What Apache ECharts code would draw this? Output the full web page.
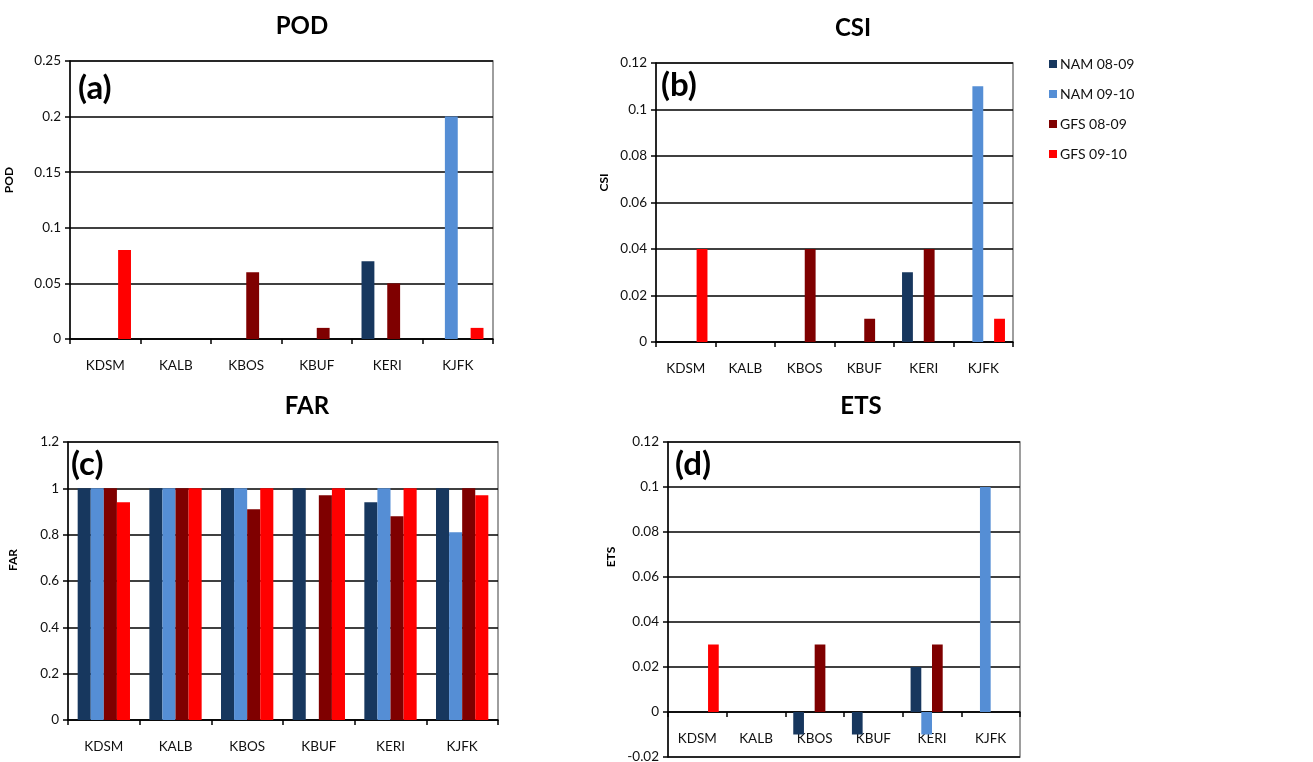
<!DOCTYPE html>
<html>
<head>
<meta charset="utf-8">
<script src="https://cdn.jsdelivr.net/npm/echarts@6/dist/echarts.min.js"></script>
<style>
html,body{margin:0;padding:0;background:#fff;}
#chart{width:1313px;height:762px;}
</style>
</head>
<body>
<div id="chart"></div>
<script>
const categories = ['KDSM', 'KALB', 'KBOS', 'KBUF', 'KERI', 'KJFK'];
const seriesNames = ['NAM 08-09', 'NAM 09-10', 'GFS 08-09', 'GFS 09-10'];
const seriesColors = ['#17375E', '#558ED5', '#7F0000', '#FF0000'];

// POD (a)
const podNam0809 = [0, 0, 0, 0, 0.07, 0];
const podNam0910 = [0, 0, 0, 0, 0, 0.2];
const podGfs0809 = [0, 0, 0.06, 0.01, 0.05, 0];
const podGfs0910 = [0.08, 0, 0, 0, 0, 0.01];

// CSI (b)
const csiNam0809 = [0, 0, 0, 0, 0.03, 0];
const csiNam0910 = [0, 0, 0, 0, 0, 0.11];
const csiGfs0809 = [0, 0, 0.04, 0.01, 0.04, 0];
const csiGfs0910 = [0.04, 0, 0, 0, 0, 0.01];

// FAR (c)
const farNam0809 = [1, 1, 1, 1, 0.94, 1];
const farNam0910 = [1, 1, 1, 0, 1, 0.81];
const farGfs0809 = [1, 1, 0.91, 0.97, 0.88, 1];
const farGfs0910 = [0.94, 1, 1, 1, 1, 0.97];

// ETS (d)
const etsNam0809 = [0, 0, -0.01, -0.01, 0.02, 0];
const etsNam0910 = [0, 0, 0, 0, -0.01, 0.1];
const etsGfs0809 = [0, 0, 0.03, 0, 0.03, 0];
const etsGfs0910 = [0.03, 0, 0, 0, 0, 0];

const panelTitles = ['POD', 'CSI', 'FAR', 'ETS'];
const panelLabels = ['(a)', '(b)', '(c)', '(d)'];
const yMins = [0, 0, 0, -0.02];
const yMaxs = [0.25, 0.12, 1.2, 0.12];
const yIntervals = [0.05, 0.02, 0.2, 0.02];

const panelData = [
  [podNam0809, podNam0910, podGfs0809, podGfs0910],
  [csiNam0809, csiNam0910, csiGfs0809, csiGfs0910],
  [farNam0809, farNam0910, farGfs0809, farGfs0910],
  [etsNam0809, etsNam0910, etsGfs0809, etsGfs0910]
];

const FONT = 'Lato, "Open Sans", sans-serif';

// layout
const grids = [
  {left: 70, top: 61, width: 423, height: 278},
  {left: 656, top: 63, width: 357, height: 279},
  {left: 68, top: 442, width: 430, height: 278},
  {left: 668, top: 442, width: 352, height: 315}
];
const titlePos = [[297, 9], [848, 11], [302, 389], [856, 389]];
const labelPos = [[78, 72], [661, 69], [71, 448], [675, 448]];
const nameGaps = [55, 46, 49, 51];
const namePads = [40, 40, 42, 85];

// category axis sits on the value 0: offset from grid bottom to the zero line
function zeroOffset(i) {
  const h = grids[i].height;
  return -h * (0 - yMins[i]) / (yMaxs[i] - yMins[i]);
}

const title = [];
panelTitles.forEach((t, i) => {
  title.push({
    text: t, left: titlePos[i][0], top: titlePos[i][1], textAlign: 'center',
    textStyle: {fontFamily: FONT, fontWeight: 'bold', fontSize: 24, color: '#000'}
  });
});
panelLabels.forEach((t, i) => {
  title.push({
    text: t, left: labelPos[i][0], top: labelPos[i][1], padding: 0,
    textStyle: {fontFamily: FONT, fontWeight: 'bold', fontSize: 33, color: '#000'}
  });
});

const grid = grids.map(g => Object.assign({
  show: true, borderColor: '#7f7f7f', borderWidth: 1.5, backgroundColor: 'transparent',
  containLabel: false, outerBoundsMode: 'none'
}, g));

const xAxis = grids.map((g, i) => ({
  type: 'category', gridIndex: i, data: categories,
  position: 'bottom', offset: zeroOffset(i),
  axisLine: {show: true, onZero: false, lineStyle: {color: '#000', width: 1.5}},
  axisTick: {show: true, length: 5, lineStyle: {color: '#000', width: 1.5}},
  axisLabel: {fontFamily: FONT, fontSize: 13.5, color: '#111', margin: 20},
  splitLine: {show: false}
}));

const yAxis = grids.map((g, i) => ({
  type: 'value', gridIndex: i, min: yMins[i], max: yMaxs[i], interval: yIntervals[i],
  name: panelTitles[i], nameLocation: 'middle', nameGap: nameGaps[i], nameRotate: 90,
  nameTextStyle: {fontFamily: FONT, fontWeight: 'bold', fontSize: 12, color: '#000', padding: [0, 0, 0, namePads[i]]},
  axisLine: {show: true, lineStyle: {color: '#000', width: 1.5}},
  axisTick: {show: true, length: 5, lineStyle: {color: '#000', width: 1.5}},
  axisLabel: {fontFamily: FONT, fontSize: 13.5, color: '#111', margin: 9},
  splitLine: {show: true, lineStyle: {color: '#000', width: 1.5}}
}));

const series = [];
panelData.forEach((arrs, i) => {
  arrs.forEach((arr, j) => {
    series.push({
      type: 'bar', name: seriesNames[j], xAxisIndex: i, yAxisIndex: i,
      data: arr, barGap: '0%', barCategoryGap: '27%',
      itemStyle: {color: seriesColors[j]},
      emphasis: {disabled: true}
    });
  });
});

const option = {
  animation: false,
  backgroundColor: '#fff',
  color: seriesColors,
  title: title,
  legend: {
    orient: 'vertical', left: 1044, top: 52,
    data: seriesNames,
    icon: 'rect', itemWidth: 8, itemHeight: 8, itemGap: 16,
    textStyle: {fontFamily: FONT, fontSize: 14, color: '#111', padding: [0, 0, 0, -2]}
  },
  grid: grid,
  xAxis: xAxis,
  yAxis: yAxis,
  series: series
};

const chart = echarts.init(document.getElementById('chart'), null, {renderer: 'canvas'});
chart.setOption(option);
</script>
</body>
</html>
